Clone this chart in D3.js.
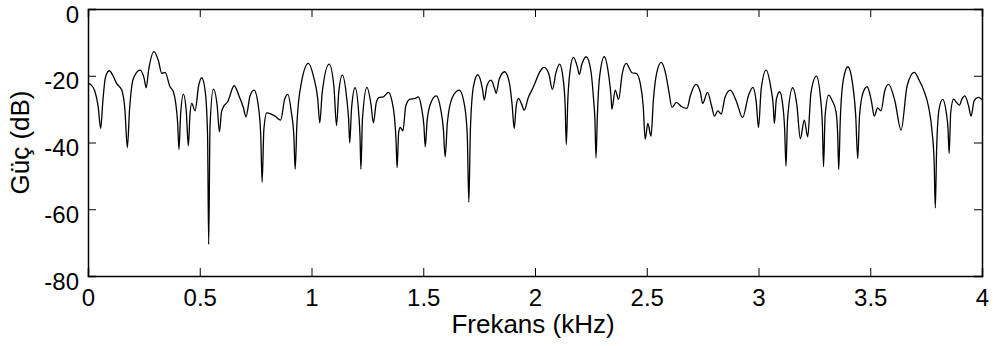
<!DOCTYPE html>
<html>
<head>
<meta charset="utf-8">
<script src="https://cdn.jsdelivr.net/npm/d3@7"></script>
<style>
  body { margin: 0; background: #fff; }
  text { font-family: "Liberation Sans", Arial, sans-serif; fill: #000; }
</style>
</head>
<body>
<div id="chart"></div>
<script>
// spectrum (kHz, dB)
const freq = [
  0.000, 0.015, 0.030, 0.045, 0.057, 0.066, 0.078, 0.095, 0.112, 0.128,
  0.151, 0.165, 0.176, 0.186, 0.203, 0.233, 0.252, 0.260, 0.272, 0.295,
  0.315, 0.330, 0.345, 0.367, 0.382, 0.392, 0.401, 0.407, 0.414, 0.427,
  0.440, 0.449, 0.456, 0.464, 0.479, 0.495, 0.509, 0.525, 0.535, 0.540,
  0.546, 0.561, 0.578, 0.588, 0.597, 0.606, 0.625, 0.654, 0.677, 0.695,
  0.707, 0.725, 0.743, 0.762, 0.773, 0.779, 0.787, 0.800, 0.837, 0.862,
  0.880, 0.894, 0.910, 0.921, 0.927, 0.935, 0.955, 0.986, 1.010, 1.028,
  1.037, 1.048, 1.079, 1.100, 1.112, 1.122, 1.138, 1.158, 1.166, 1.171,
  1.179, 1.195, 1.212, 1.217, 1.221, 1.228, 1.248, 1.266, 1.277, 1.290,
  1.303, 1.322, 1.344, 1.359, 1.372, 1.378, 1.383, 1.390, 1.397, 1.409,
  1.422, 1.441, 1.464, 1.478, 1.492, 1.503, 1.509, 1.518, 1.538, 1.558,
  1.578, 1.590, 1.598, 1.608, 1.630, 1.661, 1.685, 1.697, 1.704, 1.711,
  1.725, 1.744, 1.765, 1.773, 1.785, 1.803, 1.820, 1.826, 1.840, 1.864,
  1.885, 1.898, 1.907, 1.916, 1.926, 1.940, 1.952, 1.970, 1.986, 2.001,
  2.020, 2.041, 2.062, 2.078, 2.094, 2.110, 2.126, 2.135, 2.140, 2.147,
  2.156, 2.172, 2.190, 2.198, 2.210, 2.229, 2.250, 2.262, 2.268, 2.273,
  2.279, 2.288, 2.310, 2.330, 2.340, 2.344, 2.359, 2.374, 2.390, 2.408,
  2.434, 2.453, 2.471, 2.484, 2.493, 2.505, 2.519, 2.530, 2.545, 2.565,
  2.585, 2.598, 2.613, 2.632, 2.657, 2.680, 2.695, 2.720, 2.740, 2.750,
  2.772, 2.790, 2.803, 2.818, 2.833, 2.850, 2.874, 2.900, 2.929, 2.955,
  2.975, 2.990, 3.000, 3.012, 3.034, 3.055, 3.066, 3.071, 3.080, 3.095,
  3.107, 3.117, 3.123, 3.130, 3.153, 3.172, 3.187, 3.205, 3.220, 3.235,
  3.259, 3.278, 3.286, 3.291, 3.298, 3.314, 3.330, 3.347, 3.354, 3.359,
  3.366, 3.380, 3.400, 3.420, 3.435, 3.444, 3.452, 3.468, 3.486, 3.505,
  3.518, 3.533, 3.548, 3.565, 3.582, 3.610, 3.638, 3.665, 3.697, 3.720,
  3.739, 3.761, 3.777, 3.786, 3.791, 3.797, 3.808, 3.824, 3.840, 3.848,
  3.853, 3.860, 3.873, 3.886, 3.899, 3.910, 3.923, 3.940, 3.951, 3.965,
  3.983, 4.000
];
const power = [
  -22.3, -22.8, -24.5, -29.0, -35.8, -28.0, -20.5, -18.5, -20.0, -22.3,
  -24.3, -30.0, -41.5, -30.0, -20.8, -18.3, -21.0, -23.6, -18.0, -12.8,
  -15.5, -19.3, -19.0, -23.3, -24.8, -28.0, -34.0, -42.1, -32.0, -25.6,
  -31.0, -41.0, -32.0, -28.3, -30.5, -23.0, -20.6, -25.0, -38.0, -70.5,
  -35.0, -24.0, -29.0, -36.8, -31.0, -29.3, -27.8, -23.0, -26.3, -29.5,
  -32.3, -26.0, -24.3, -29.0, -38.0, -51.9, -36.0, -31.1, -32.1, -33.3,
  -27.0, -25.6, -31.0, -38.0, -48.0, -34.0, -22.0, -16.3, -20.5, -27.0,
  -34.1, -25.0, -16.5, -23.0, -34.9, -25.0, -19.8, -27.0, -33.0, -40.1,
  -30.0, -23.6, -32.0, -38.0, -48.0, -33.0, -23.5, -28.5, -34.1, -28.0,
  -26.5, -26.3, -25.0, -27.3, -33.0, -39.0, -47.5, -37.0, -35.5, -36.5,
  -29.0, -27.0, -26.8, -26.3, -29.5, -35.0, -41.3, -33.0, -27.5, -26.0,
  -30.0, -36.0, -44.3, -34.0, -26.5, -24.3, -29.0, -38.0, -57.9, -36.0,
  -23.0, -19.7, -24.0, -27.3, -23.0, -21.3, -24.0, -25.3, -21.0, -18.8,
  -22.0, -29.0, -35.8, -29.0, -26.8, -28.5, -30.3, -26.5, -24.3, -22.0,
  -19.0, -17.5, -19.5, -24.1, -19.0, -16.5, -21.0, -29.0, -40.6, -27.0,
  -19.0, -14.5, -17.5, -19.6, -16.5, -14.3, -18.5, -27.0, -33.0, -44.6,
  -32.0, -21.0, -14.3, -20.0, -26.0, -30.0, -24.3, -27.1, -19.5, -16.3,
  -19.1, -19.3, -22.3, -29.0, -39.0, -34.3, -38.1, -27.0, -19.0, -16.0,
  -19.5, -24.3, -29.5, -28.0, -29.3, -29.8, -26.0, -22.6, -25.0, -28.3,
  -25.0, -29.0, -32.1, -30.5, -31.5, -26.5, -24.3, -27.5, -32.5, -26.0,
  -23.5, -28.0, -35.5, -24.0, -18.3, -23.5, -29.0, -34.3, -27.0, -24.8,
  -28.0, -36.0, -47.1, -33.0, -23.6, -29.0, -38.8, -33.3, -38.3, -25.0,
  -20.1, -27.0, -35.0, -47.3, -32.0, -25.8, -27.5, -30.8, -37.0, -48.1,
  -33.0, -21.0, -17.3, -22.0, -32.0, -44.8, -32.0, -25.0, -23.3, -27.5,
  -32.1, -29.6, -30.5, -24.5, -22.6, -27.5, -36.3, -23.0, -19.0, -21.5,
  -24.3, -29.3, -37.0, -46.0, -59.6, -42.0, -30.0, -27.1, -31.0, -36.0,
  -43.3, -31.0, -27.0, -28.0, -28.8, -27.0, -26.0, -29.0, -32.1, -27.5,
  -26.5, -27.1
];
const xTicks = [0, 0.5, 1, 1.5, 2, 2.5, 3, 3.5, 4];
const yTicks = [-80, -60, -40, -20, 0];

const svg = d3.select("#chart").append("svg")
    .attr("width", 995)
    .attr("height", 346);

const margin = {top: 9, right: 13, bottom: 70, left: 88};
const width = 995 - margin.left - margin.right;
const height = 346 - margin.top - margin.bottom;
const g = svg.append("g").attr("transform", "translate(" + margin.left + "," + margin.top + ")");

const x = d3.scaleLinear().domain([0, 4]).range([0, width]);
const y = d3.scaleLinear().domain([-80, 0]).range([height, 0]);

const data = freq.map((f, i) => ({f: f, p: power[i]}));

const line = d3.line()
    .x(d => x(d.f))
    .y(d => y(d.p))
    .curve(d3.curveMonotoneX);

g.append("path")
    .datum(data)
    .attr("fill", "none")
    .attr("stroke", "#000")
    .attr("stroke-width", 1.3)
    .attr("d", line);

const tickLen = 8;
const tickFont = "24px";
const labelFont = "26px";
const plain = d => String(d); // plain hyphen minus, like the original

// box axes, ticks pointing inward
const bottomAxis = g.append("g")
    .attr("transform", "translate(0," + height + ")")
    .call(d3.axisBottom(x).tickValues(xTicks).tickSize(-tickLen).tickPadding(13).tickFormat(plain));
const leftAxis = g.append("g")
    .call(d3.axisLeft(y).tickValues(yTicks).tickSize(-tickLen).tickPadding(9).tickFormat(plain));
const topAxis = g.append("g")
    .call(d3.axisTop(x).tickValues(xTicks).tickSize(-tickLen).tickFormat(""));
const rightAxis = g.append("g")
    .attr("transform", "translate(" + width + ",0)")
    .call(d3.axisRight(y).tickValues(yTicks).tickSize(-tickLen).tickFormat(""));

[bottomAxis, leftAxis, topAxis, rightAxis].forEach(a => {
    a.selectAll(".domain").attr("stroke", "#000").attr("stroke-width", 1.5);
    a.selectAll(".tick line").attr("stroke", "#000").attr("stroke-width", 1);
    a.selectAll("text").attr("font-size", tickFont)
        .attr("font-family", "'Liberation Sans', Arial, sans-serif").attr("fill", "#000");
});
leftAxis.selectAll("text").attr("dy", "0.55em");

g.append("text")
    .attr("x", width / 2 - 2)
    .attr("y", height + 57)
    .attr("text-anchor", "middle")
    .attr("font-size", labelFont)
    .text("Frekans (kHz)");

g.append("text")
    .attr("transform", "translate(" + (-59) + "," + (height / 2) + ") rotate(-90)")
    .attr("text-anchor", "middle")
    .attr("font-size", labelFont)
    .text("Güç (dB)");
</script>
</body>
</html>
